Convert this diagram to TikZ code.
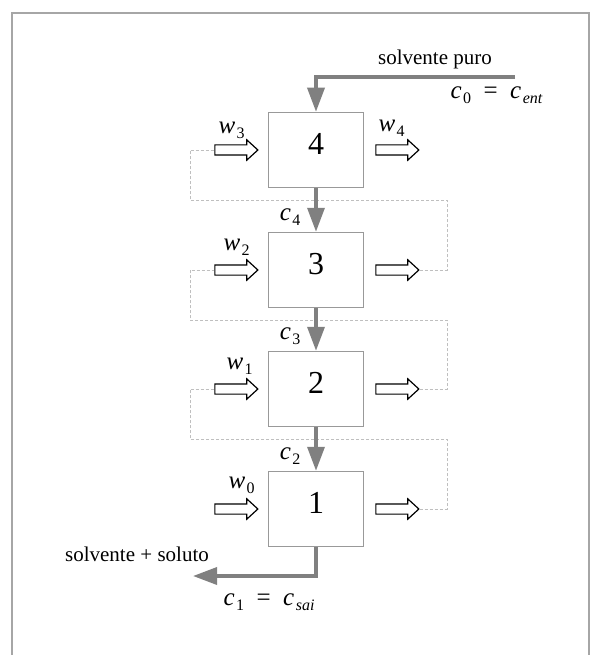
\documentclass[tikz,border=0pt]{standalone}
\usepackage{fontspec}
\setmainfont{Liberation Serif}
\usetikzlibrary{arrows.meta, shapes.arrows, positioning, calc}

\newcommand{\conc}[2]{\textit{#1}\kern1.5pt\raisebox{-5pt}{\fontsize{16}{16}\selectfont #2}}

\tikzset{
  stage/.style={draw=gray!80, line width=1.5pt, minimum width=95pt, minimum height=75pt,
    font=\fontsize{32}{32}\selectfont, text depth=12pt},
  flow/.style={draw=gray, line width=3.5pt, -{Triangle[length=24pt,width=17pt]}},
  blk/.style={single arrow, draw, line width=1.2pt, fill=white, minimum height=43pt,
    inner xsep=0pt, inner ysep=4.5pt, single arrow head extend=5pt, single arrow tip angle=85},
  recycle/.style={draw=gray!50, line width=0.7pt, dash pattern=on 3pt off 2pt},
  lbl/.style={font=\fontsize{21}{21}\selectfont, anchor=base},
  var/.style={font=\fontsize{25}{25}\selectfont, anchor=base west}
}

\begin{document}
\begin{tikzpicture}[x=1pt, y=-1pt]
  \useasboundingbox (0,0) rectangle (592,655);
  \draw[gray!70, line width=1.5pt] (12,660) -- (12,13) -- (589,13) -- (589,660);

  \coordinate (in) at (515,77);
  \coordinate (out) at (193,576);
  \coordinate (xr) at (447,0);
  \coordinate (xl) at (190,0);

  \foreach \n/\y in {4/150, 3/270, 2/389, 1/509}{
    \node[stage] (b\n) at (316,\y) {\n};
    \node[blk, left=9pt of b\n] (l\n) {};
    \node[blk, right=11pt of b\n] (r\n) {};
  }

  \foreach \a/\b in {1/2, 2/3, 3/4}{
    \coordinate (g\b) at ($(b\b.south)+(0,12)$);
    \draw[recycle] (r\a.tip) -| (xr |- g\b) -| (xl |- l\b.tail) -- (l\b.tail);
  }

  \draw[flow] (in) -| (b4.north);
  \foreach \a/\b in {4/3, 3/2, 2/1}
    \draw[flow] (b\a) -- (b\b);
  \draw[flow] (b1.south) |- (out);

  \node[lbl] (pure) at (435,65) {solvente puro};
  \node[var] (cin) at (447,99) {\conc{c}{0}\enspace=\enspace\conc{c}{\textit{ent}}};
  \node[lbl] (mix) at (137,561) {solvente + soluto};
  \node[var] (cout) at (220,605) {\conc{c}{1}\enspace=\enspace\conc{c}{\textit{sai}}};

  \foreach \n/\m in {3/4, 2/3, 1/2}
    \node[var, anchor=base east] (c\m) at ($(b\n.north)+(-12,-11)$) {\conc{c}{\m}};
  \foreach \x/\y/\k in {215/134/3, 220/250/2, 223/369/1, 225/488/0, 375/132/4}
    \node[var] (w\k) at (\x,\y) {\conc{w}{\k}};
\end{tikzpicture}
\end{document}
